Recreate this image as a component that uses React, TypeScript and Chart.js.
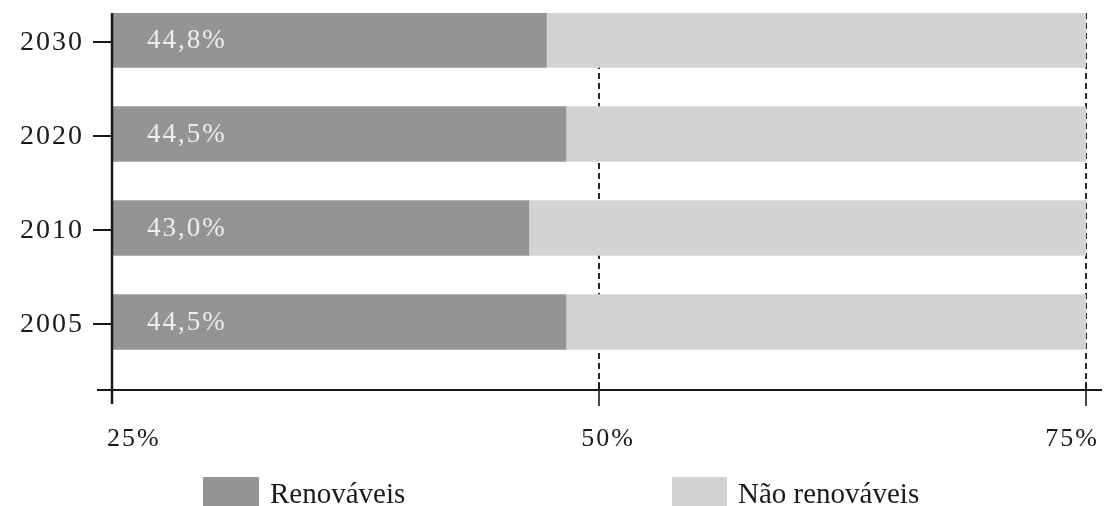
import React, { useEffect, useRef } from 'react';
import { Chart, registerables } from 'chart.js';

Chart.register(...registerables);

// ---- data ----
const years = ['2005', '2010', '2020', '2030'];
const yearPos = [0, 1, 2, 3];
const renewableLabels = ['44,5%', '43,0%', '44,5%', '44,8%'];
const renewableBarEnd = [48.3, 46.4, 48.3, 47.3];
const axisMin = 25;
const axisMax = 75;
const yMin = -0.723;
const yMax = 3.287;
const xTicks = [25, 50, 75];
const xTickLabels = ['25%', '50%', '75%'];
const gridValues = [50, 75];
const seriesNames = ['Renováveis', 'Não renováveis'];
const seriesColors = ['#939496', '#d1d3d5'];

const FONT = '"Liberation Serif", "DejaVu Serif", serif';
const INK = '#1a1a1a';

const customPlugin = {
  id: 'customAxes',
  beforeDatasetsDraw(chart: any) {
    const { ctx, chartArea, scales } = chart;
    const x = scales.x;
    ctx.save();
    ctx.strokeStyle = '#111';
    ctx.lineWidth = 1.8;
    ctx.setLineDash([6, 4]);
    gridValues.forEach((v) => {
      const px = Math.round(x.getPixelForValue(v));
      ctx.beginPath();
      ctx.moveTo(px, chartArea.top);
      ctx.lineTo(px, chartArea.bottom);
      ctx.stroke();
    });
    ctx.restore();
  },
  afterDatasetsDraw(chart: any) {
    const { ctx, chartArea, scales } = chart;
    const x = scales.x;
    const y = scales.y;
    const x0 = x.getPixelForValue(axisMin);
    const x1 = x.getPixelForValue(axisMax);
    const bottom = chartArea.bottom;
    ctx.save();
    ctx.setLineDash([]);
    ctx.strokeStyle = INK;

    // y axis line
    ctx.lineWidth = 2.5;
    ctx.beginPath();
    ctx.moveTo(x0, chartArea.top);
    ctx.lineTo(x0, bottom + 14);
    ctx.stroke();

    // x axis line
    ctx.lineWidth = 2;
    ctx.beginPath();
    ctx.moveTo(x0 - 15, bottom);
    ctx.lineTo(x1 + 16, bottom);
    ctx.stroke();

    // x tick marks
    ctx.lineWidth = 1.6;
    xTicks.forEach((v, i) => {
      if (i === 0) return;
      const px = Math.round(x.getPixelForValue(v));
      ctx.beginPath();
      ctx.moveTo(px, bottom - 8);
      ctx.lineTo(px, bottom + 16);
      ctx.stroke();
    });

    // y tick marks + labels
    ctx.fillStyle = INK;
    ctx.font = `28px ${FONT}`;
    (ctx as any).letterSpacing = '2px';
    ctx.textBaseline = 'middle';
    ctx.textAlign = 'right';
    years.forEach((yr, i) => {
      const py = y.getPixelForValue(yearPos[i]);
      ctx.lineWidth = 2;
      ctx.beginPath();
      ctx.moveTo(x0 - 19, py + 2);
      ctx.lineTo(x0, py + 2);
      ctx.stroke();
      ctx.fillText(yr, x0 - 28, py + 3);
    });

    // x tick labels
    ctx.font = `26px ${FONT}`;
    const aligns = ['left', 'center', 'right'];
    const shifts = [-5, 9, 13];
    xTicks.forEach((v, i) => {
      const px = x.getPixelForValue(v);
      ctx.textAlign = aligns[i] as CanvasTextAlign;
      ctx.fillText(xTickLabels[i], px + shifts[i], bottom + 49);
    });

    // value labels inside bars
    ctx.fillStyle = '#eeeeee';
    ctx.font = `27px ${FONT}`;
    (ctx as any).letterSpacing = '2px';
    ctx.textAlign = 'left';
    renewableLabels.forEach((lbl, i) => {
      const py = y.getPixelForValue(yearPos[i]);
      ctx.fillText(lbl, x0 + 35, py + 1);
    });

    // legend
    (ctx as any).letterSpacing = '0px';
    ctx.font = `29px ${FONT}`;
    ctx.textBaseline = 'alphabetic';
    const legendX = [203, 672];
    const legendW = [56, 55];
    seriesNames.forEach((name, i) => {
      ctx.fillStyle = seriesColors[i];
      ctx.fillRect(legendX[i], 477, legendW[i], 40);
      ctx.fillStyle = INK;
      ctx.fillText(name, legendX[i] + legendW[i] + 11, 503);
    });
    ctx.restore();
  },
};

export default function App() {
  const ref = useRef<HTMLCanvasElement>(null);
  useEffect(() => {
    document.body.style.margin = '0';
    const canvas = ref.current;
    if (!canvas) return;
    const chart = new Chart(canvas, {
      type: 'bar',
      data: {
        datasets: [
          {
            label: seriesNames[0],
            data: years.map((_, i) => ({ x: [axisMin, renewableBarEnd[i]], y: yearPos[i] })) as any,
            backgroundColor: seriesColors[0],
            borderWidth: 0,
            grouped: false,
            barThickness: 55,
            order: 1,
          },
          {
            label: seriesNames[1],
            data: years.map((_, i) => ({ x: [renewableBarEnd[i], axisMax], y: yearPos[i] })) as any,
            backgroundColor: seriesColors[1],
            borderWidth: 0,
            grouped: false,
            barThickness: 55,
            order: 2,
          },
        ],
      },
      options: {
        indexAxis: 'y',
        responsive: false,
        animation: false,
        devicePixelRatio: 1,
        layout: { padding: { left: 112, right: 22, top: 13, bottom: 116 } },
        scales: {
          x: { type: 'linear', min: axisMin, max: axisMax, display: false, offset: false },
          y: {
            type: 'linear',
            min: yMin,
            max: yMax,
            display: false,
            offset: false,
            grace: 0,
            afterDataLimits: (s: any) => {
              s.min = yMin;
              s.max = yMax;
            },
            afterBuildTicks: (s: any) => {
              s.min = yMin;
              s.max = yMax;
            },
          },
        },
        plugins: {
          legend: { display: false },
          tooltip: { enabled: false },
        },
      },
      plugins: [customPlugin],
    });
    return () => chart.destroy();
  }, []);
  return (
    <div style={{ position: 'absolute', left: 0, top: 0, width: 1108, height: 506, background: '#fff' }}>
      <canvas ref={ref} width={1108} height={506} style={{ width: 1108, height: 506, display: 'block' }} />
    </div>
  );
}
